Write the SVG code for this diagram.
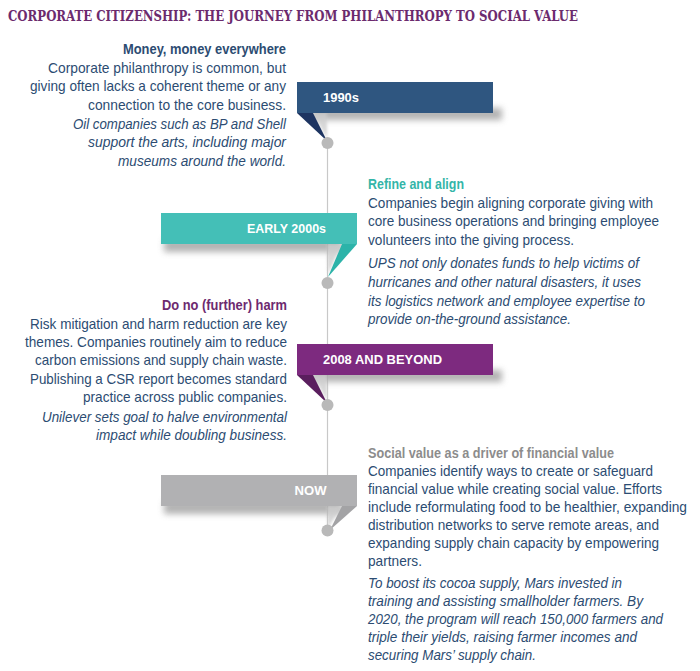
<svg xmlns="http://www.w3.org/2000/svg" width="700" height="671" viewBox="0 0 700 671">
<defs>
<style>
.title{font-family:"DejaVu Serif","Liberation Serif",serif;font-weight:bold;font-stretch:condensed;font-size:15.5px;fill:#6c2b6e}
.b{font-family:"Liberation Sans",Arial,sans-serif;font-size:14.3px;fill:#2c4c72}
.i{font-style:italic}
.h{font-weight:bold}
.lbl{font-family:"Liberation Sans",Arial,sans-serif;font-size:13.5px;font-weight:bold;fill:#ffffff}
.r{text-anchor:end}
.dot{fill:#b9b9b9}
.sh{fill:#9a9a9a;opacity:.75;filter:url(#blur)}
.sht{fill:#cfcfcf;opacity:.8;filter:url(#blur2)}
</style>
<filter id="blur" x="-20%" y="-100%" width="140%" height="300%"><feGaussianBlur stdDeviation="3"/></filter>
<filter id="blur2" x="-50%" y="-50%" width="200%" height="200%"><feGaussianBlur stdDeviation="1.5"/></filter>
</defs>
<rect width="700" height="671" fill="#ffffff"/>
<g id="title">
<text class="title" x="8" y="21" textLength="570" lengthAdjust="spacingAndGlyphs">CORPORATE CITIZENSHIP: THE JOURNEY FROM PHILANTHROPY TO SOCIAL VALUE</text>
</g>
<g id="connectors">
<line x1="327.5" y1="143" x2="327.5" y2="530" stroke="#c8c8c8" stroke-width="1.2"/>
</g>
<g id="era-1990s">
<rect class="sh" x="312" y="108" width="190" height="12"/>
<polygon class="sht" points="313,113 327,113 327,139"/>
<rect x="297" y="82" width="196" height="31" fill="#2f5680"/>
<polygon points="297,113 313,113 327,141" fill="#1d3461"/>
<circle class="dot" cx="327.5" cy="143" r="6"/>
<text class="lbl" x="323" y="102" textLength="36" lengthAdjust="spacingAndGlyphs">1990s</text>
<text class="b h r" x="286" y="54" textLength="163" lengthAdjust="spacingAndGlyphs">Money, money everywhere</text>
<text class="b r" x="286" y="72.5" textLength="238" lengthAdjust="spacingAndGlyphs">Corporate philanthropy is common, but</text>
<text class="b r" x="286" y="91" textLength="256" lengthAdjust="spacingAndGlyphs">giving often lacks a coherent theme or any</text>
<text class="b r" x="286" y="109.5" textLength="198" lengthAdjust="spacingAndGlyphs">connection to the core business.</text>
<text class="b i r" x="286" y="128.5" textLength="213" lengthAdjust="spacingAndGlyphs">Oil companies such as BP and Shell</text>
<text class="b i r" x="286" y="147" textLength="198" lengthAdjust="spacingAndGlyphs">support the arts, including major</text>
<text class="b i r" x="286" y="165.5" textLength="168" lengthAdjust="spacingAndGlyphs">museums around the world.</text>
</g>
<g id="era-early-2000s">
<rect class="sh" x="164" y="239" width="178" height="13"/>
<polygon class="sht" points="327,244 342,244 328,274"/>
<rect x="161" y="213" width="196" height="31" fill="#44bfb7"/>
<polygon points="342,244 357,244 328,277" fill="#2cb3a9"/>
<circle class="dot" cx="327.5" cy="283" r="6"/>
<text class="lbl r" x="326" y="232.5" textLength="79" lengthAdjust="spacingAndGlyphs">EARLY 2000s</text>
<text class="b h" x="368" y="188.5" textLength="96" lengthAdjust="spacingAndGlyphs" style="fill:#33b5a8">Refine and align</text>
<text class="b" x="368" y="207.5" textLength="285" lengthAdjust="spacingAndGlyphs">Companies begin aligning corporate giving with</text>
<text class="b" x="368" y="226" textLength="291" lengthAdjust="spacingAndGlyphs">core business operations and bringing employee</text>
<text class="b" x="368" y="244.5" textLength="206" lengthAdjust="spacingAndGlyphs">volunteers into the giving process.</text>
<text class="b i" x="368" y="268" textLength="271" lengthAdjust="spacingAndGlyphs">UPS not only donates funds to help victims of</text>
<text class="b i" x="368" y="287" textLength="273" lengthAdjust="spacingAndGlyphs">hurricanes and other natural disasters, it uses</text>
<text class="b i" x="368" y="305.5" textLength="277" lengthAdjust="spacingAndGlyphs">its logistics network and employee expertise to</text>
<text class="b i" x="368" y="324" textLength="203" lengthAdjust="spacingAndGlyphs">provide on-the-ground assistance.</text>
</g>
<g id="era-2008">
<rect class="sh" x="312" y="370" width="190" height="12"/>
<polygon class="sht" points="313,375 327,375 327,401"/>
<rect x="297" y="344" width="196" height="31" fill="#7d2a7f"/>
<polygon points="297,375 313,375 327,403" fill="#5a1e5e"/>
<circle class="dot" cx="327.5" cy="405" r="6"/>
<text class="lbl" x="323" y="363.5" textLength="119" lengthAdjust="spacingAndGlyphs">2008 AND BEYOND</text>
<text class="b h r" x="287" y="310" textLength="125" lengthAdjust="spacingAndGlyphs" style="fill:#6d2a6f">Do no (further) harm</text>
<text class="b r" x="287" y="328.5" textLength="257" lengthAdjust="spacingAndGlyphs">Risk mitigation and harm reduction are key</text>
<text class="b r" x="287" y="347" textLength="262" lengthAdjust="spacingAndGlyphs">themes. Companies routinely aim to reduce</text>
<text class="b r" x="287" y="365" textLength="252" lengthAdjust="spacingAndGlyphs">carbon emissions and supply chain waste.</text>
<text class="b r" x="287" y="383.5" textLength="257" lengthAdjust="spacingAndGlyphs">Publishing a CSR report becomes standard</text>
<text class="b r" x="287" y="401.5" textLength="204" lengthAdjust="spacingAndGlyphs">practice across public companies.</text>
<text class="b i r" x="287" y="422" textLength="245" lengthAdjust="spacingAndGlyphs">Unilever sets goal to halve environmental</text>
<text class="b i r" x="287" y="440" textLength="191" lengthAdjust="spacingAndGlyphs">impact while doubling business.</text>
</g>
<g id="era-now">
<rect class="sh" x="164" y="501" width="178" height="13"/>
<polygon class="sht" points="327,506 342,506 328,528"/>
<rect x="161" y="475" width="196" height="31" fill="#b1b1b3"/>
<polygon points="342,506 357,506 330,530" fill="#a3a3a5"/>
<circle class="dot" cx="327.5" cy="530.5" r="6"/>
<text class="lbl r" x="326.5" y="494.5" textLength="32" lengthAdjust="spacingAndGlyphs">NOW</text>
<text class="b h" x="368" y="458" textLength="246" lengthAdjust="spacingAndGlyphs" style="fill:#8c8c8c">Social value as a driver of financial value</text>
<text class="b" x="368" y="476" textLength="285" lengthAdjust="spacingAndGlyphs">Companies identify ways to create or safeguard</text>
<text class="b" x="368" y="494" textLength="294" lengthAdjust="spacingAndGlyphs">financial value while creating social value. Efforts</text>
<text class="b" x="368" y="512" textLength="319" lengthAdjust="spacingAndGlyphs">include reformulating food to be healthier, expanding</text>
<text class="b" x="368" y="530" textLength="291" lengthAdjust="spacingAndGlyphs">distribution networks to serve remote areas, and</text>
<text class="b" x="368" y="548" textLength="291" lengthAdjust="spacingAndGlyphs">expanding supply chain capacity by empowering</text>
<text class="b" x="368" y="566" textLength="54" lengthAdjust="spacingAndGlyphs">partners.</text>
<text class="b i" x="368" y="588" textLength="254" lengthAdjust="spacingAndGlyphs">To boost its cocoa supply, Mars invested in</text>
<text class="b i" x="368" y="606" textLength="275" lengthAdjust="spacingAndGlyphs">training and assisting smallholder farmers. By</text>
<text class="b i" x="368" y="624" textLength="295" lengthAdjust="spacingAndGlyphs">2020, the program will reach 150,000 farmers and</text>
<text class="b i" x="368" y="642" textLength="269" lengthAdjust="spacingAndGlyphs">triple their yields, raising farmer incomes and</text>
<text class="b i" x="368" y="660" textLength="168" lengthAdjust="spacingAndGlyphs">securing Mars’ supply chain.</text>
</g>
</svg>
